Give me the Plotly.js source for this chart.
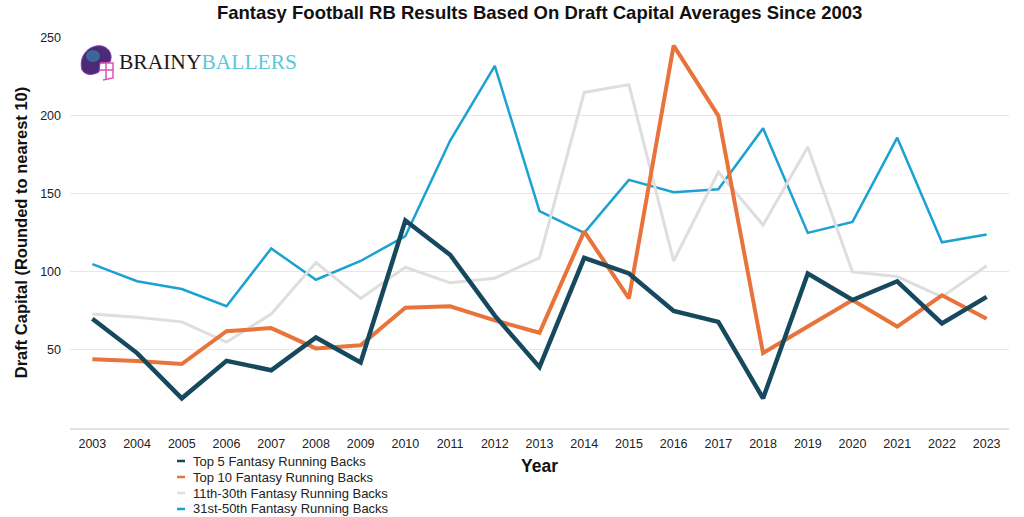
<!DOCTYPE html>
<html>
<head>
<meta charset="utf-8">
<script src="https://cdn.plot.ly/plotly-3.0.1.min.js"></script>
<style>html,body{margin:0;padding:0;background:#fff;}#chart{width:1024px;height:517px;}</style>
</head>
<body>
<div id="chart"></div>
<script>
const years = ["2003","2004","2005","2006","2007","2008","2009","2010","2011","2012","2013","2014","2015","2016","2017","2018","2019","2020","2021","2022","2023"];
const seriesNames = ["Top 5 Fantasy Running Backs","Top 10 Fantasy Running Backs","11th-30th Fantasy Running Backs","31st-50th Fantasy Running Backs"];
const top5 = [70,48,19,43,37,58,42,133,111,72,39,109,99,75,68,19,99,82,94,67,84];
const top10 = [44,43,41,62,64,51,53,77,78,69,61,126,83,245,200,48,65,82,65,85,70];
const rb11to30 = [73,71,68,55,73,106,83,103,93,96,109,215,220,107,164,130,180,100,97,84,104];
const rb31to50 = [105,94,89,78,115,95,107,123,184,232,139,125,159,151,153,192,125,132,186,119,124];
const yTicks = [50,100,150,200,250];

const colors = ["#17495e","#e8743b","#dedede","#1ba1d2"];
const widths = [4.5,4,3,2.5];
const allSeries = [top5, top10, rb11to30, rb31to50];
const FONT = "Liberation Sans, Arial, sans-serif";

const traces = allSeries.map((vals,i)=>({
  type:"scatter", mode:"lines", x:years, y:vals, name:seriesNames[i],
  line:{color:colors[i], width:widths[i]}, showlegend:false
})).reverse();

// pixel -> paper helpers (plot area: x 70..1009, y 37..428)
const PX = x => (x-70)/939, PY = y => (428-y)/391;

const shapes = [];
const annotations = [];
// manual compact legend
seriesNames.forEach((n,i)=>{
  const yy = 461 + i*16;
  shapes.push({type:"line", xref:"paper", yref:"paper", x0:PX(177), x1:PX(185), y0:PY(yy), y1:PY(yy), line:{color:colors[i], width:2.5}});
  annotations.push({xref:"paper", yref:"paper", x:PX(191), y:PY(yy), xanchor:"left", yanchor:"middle", showarrow:false, text:n, font:{family:FONT, size:13, color:"#222"}});
});
// logo: helmet
const helmet = `M ${PX(82)} ${PY(70)} C ${PX(78)} ${PY(55)}, ${PX(90)} ${PY(44)}, ${PX(102)} ${PY(46)} C ${PX(110)} ${PY(48)}, ${PX(113)} ${PY(56)}, ${PX(110)} ${PY(62)} L ${PX(100)} ${PY(63)} L ${PX(99)} ${PY(72)} C ${PX(92)} ${PY(76)}, ${PX(85)} ${PY(75)}, ${PX(82)} ${PY(70)} Z`;
shapes.push({type:"path", xref:"paper", yref:"paper", path:helmet, fillcolor:"#4b2a78", line:{color:"#8a3fb0", width:1}});
shapes.push({type:"circle", xref:"paper", yref:"paper", x0:PX(86), x1:PX(100), y0:PY(50), y1:PY(62), fillcolor:"rgba(40,180,200,0.45)", line:{width:0}});
const mask = `M ${PX(100)} ${PY(63)} L ${PX(113)} ${PY(63)} L ${PX(113)} ${PY(78)} L ${PX(103)} ${PY(80)} M ${PX(100)} ${PY(70)} L ${PX(113)} ${PY(70)} M ${PX(106)} ${PY(63)} L ${PX(106)} ${PY(79)}`;
shapes.push({type:"path", xref:"paper", yref:"paper", path:mask, line:{color:"#e04fb8", width:1.5}});
annotations.push({xref:"paper", yref:"paper", x:PX(117), y:PY(62), xanchor:"left", yanchor:"middle", showarrow:false,
  text:"<span style='color:#1a1a1a'>BRAINY</span><span style='color:#5cc8d9'>BALLERS</span>", font:{family:"Liberation Serif, serif", size:21.5}});

const layout = {
  width:1024, height:517,
  margin:{l:70, r:15, t:37, b:89},
  paper_bgcolor:"#fff", plot_bgcolor:"#fff",
  title:{text:"<b>Fantasy Football RB Results Based On Draft Capital Averages Since 2003</b>", x:0.527, xanchor:"center", y:0.975, yanchor:"middle", font:{family:FONT, size:18.5, color:"#111"}},
  xaxis:{type:"category", range:[-0.5,20.5], showgrid:false, zeroline:false, showline:true, linecolor:"#e3e3e3", linewidth:1.5, ticks:"", ticklabelstandoff:3, tickfont:{family:FONT, size:12.5, color:"#222"},
    title:{text:"<b>Year</b>", font:{family:FONT, size:17.5, color:"#111"}, standoff:10}},
  yaxis:{range:[0,250.5], tickvals:yTicks, showgrid:true, gridcolor:"#e6e6e6", gridwidth:1, zeroline:false, ticks:"", ticklabelstandoff:8, tickfont:{family:FONT, size:12.5, color:"#222"},
    title:{text:"<b>Draft Capital (Rounded to nearest 10)</b>", font:{family:FONT, size:16.5, color:"#111"}, standoff:8}},
  shapes:shapes, annotations:annotations, showlegend:false
};
Plotly.newPlot("chart", traces, layout, {staticPlot:true, displayModeBar:false});
</script>
</body>
</html>
